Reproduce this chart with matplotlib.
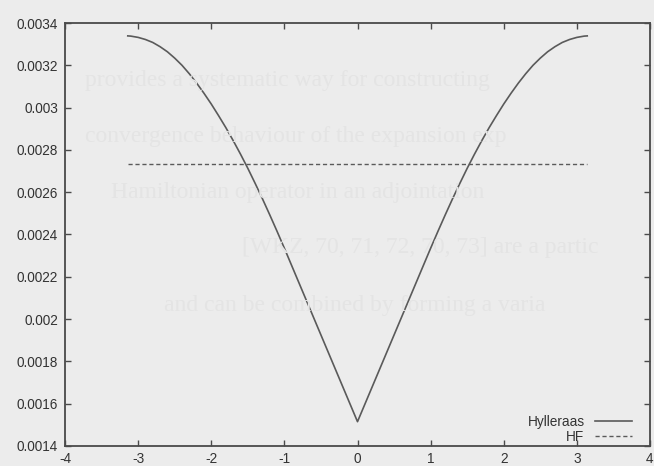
import matplotlib
matplotlib.use("Agg")
import matplotlib.pyplot as plt

# Hylleraas curve
x_vals = [-3.1416, -3.1, -3.0, -2.9, -2.8, -2.7, -2.6, -2.5, -2.4, -2.3, -2.2, -2.1,
          -2.0, -1.9, -1.8, -1.7, -1.6, -1.5, -1.4, -1.3, -1.2, -1.1, -1.0, -0.9,
          -0.8, -0.7, -0.6, -0.5, -0.4, -0.3, -0.2, -0.1,
          0.0,
          0.1, 0.2, 0.3, 0.4, 0.5, 0.6, 0.7, 0.8, 0.9, 1.0, 1.1, 1.2, 1.3, 1.4,
          1.5, 1.6, 1.7, 1.8, 1.9, 2.0, 2.1, 2.2, 2.3, 2.4, 2.5, 2.6, 2.7, 2.8,
          2.9, 3.0, 3.1, 3.1416]
hylleraas = [0.003339, 0.003338, 0.003332, 0.003322, 0.003308, 0.003288, 0.003264, 0.003234,
             0.003200, 0.003160, 0.003116, 0.003068, 0.003017, 0.002962, 0.002905, 0.002844,
             0.002780, 0.002713, 0.002642, 0.002569, 0.002493, 0.002415, 0.002335, 0.002253,
             0.002171, 0.002089, 0.002007, 0.001925, 0.001843, 0.001761, 0.001679, 0.001597,
             0.001515,
             0.001597, 0.001679, 0.001761, 0.001843, 0.001925, 0.002007, 0.002089, 0.002171,
             0.002253, 0.002335, 0.002415, 0.002493, 0.002569, 0.002642, 0.002713, 0.002780,
             0.002844, 0.002905, 0.002962, 0.003017, 0.003068, 0.003116, 0.003160, 0.003200,
             0.003234, 0.003264, 0.003288, 0.003308, 0.003322, 0.003332, 0.003338, 0.003339]

# HF constant line
hf_x = [-3.1416, 3.1416]
hf_y = [0.002735, 0.002735]

xticks = [-4, -3, -2, -1, 0, 1, 2, 3, 4]
yticks = [0.0014, 0.0016, 0.0018, 0.002, 0.0022, 0.0024, 0.0026, 0.0028, 0.003, 0.0032, 0.0034]
ytick_labels = ["0.0014", "0.0016", "0.0018", "0.002", "0.0022", "0.0024",
                "0.0026", "0.0028", "0.003", "0.0032", "0.0034"]

# faint bleed-through text of the scanned page
bg_lines = [
    "provides a systematic way for constructing",
    "convergence behaviour of the expansion exp",
    "Hamiltonian operator in an adjointation",
    "[WKZ, 70, 71, 72, 70, 73] are a partic",
    "and can be combined by forming a varia",
]
bg_x = [0.13, 0.13, 0.17, 0.37, 0.25]
bg_y = [0.828, 0.708, 0.586, 0.468, 0.345]

BG = "#ececec"
fig = plt.figure(figsize=(6.54, 4.66), dpi=100, facecolor=BG)

for t, xx, yy in zip(bg_lines, bg_x, bg_y):
    fig.text(xx, yy, t, fontsize=17, family="Liberation Serif", color="#e4e4e4",
             va="center", ha="left", zorder=0)

ax = fig.add_axes([65/654, 20/466, 585/654, 423/466])
ax.patch.set_alpha(0)

line_col = "#5a5a5a"
ax.plot(x_vals, hylleraas, color=line_col, lw=1.2, label="Hylleraas")
ax.plot(hf_x, hf_y, color=line_col, lw=1.0, linestyle=(0, (3, 2)), label="HF")

ax.set_xlim(-4, 4)
ax.set_ylim(0.0014, 0.0034)
ax.set_xticks(xticks)
ax.set_xticklabels([str(v) for v in xticks])
ax.set_yticks(yticks)
ax.set_yticklabels(ytick_labels)

for s in ax.spines.values():
    s.set_color("#4a4a4a")
    s.set_linewidth(1.3)

ax.tick_params(direction="in", length=4, width=1, color="#4a4a4a",
               top=True, right=True, labelsize=9.8, labelcolor="#333333")
ax.tick_params(axis="x", pad=4)
ax.tick_params(axis="y", pad=5)
for lab in ax.get_xticklabels() + ax.get_yticklabels():
    lab.set_family("Liberation Sans")

leg = ax.legend(loc="lower right", bbox_to_anchor=(1 - 13/585, -3/423),
                frameon=False, markerfirst=False,
                handlelength=2.7, handletextpad=0.75, labelspacing=0.05,
                borderaxespad=0.0,
                prop={"family": "Liberation Sans", "size": 9.8})
for t in leg.get_texts():
    t.set_color("#333333")
    t.set_ha("right")

fig.savefig("out.png", dpi=100, facecolor=BG)
